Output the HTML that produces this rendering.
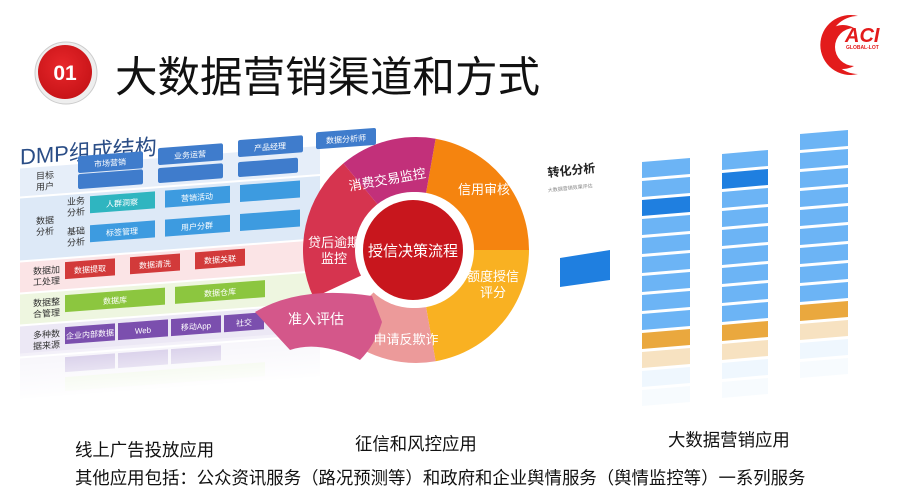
<!DOCTYPE html>
<html><head><meta charset="utf-8">
<style>
html,body{margin:0;padding:0;background:#fff;}
body{width:905px;height:503px;position:relative;overflow:hidden;font-family:"Liberation Sans","Noto Sans CJK SC",sans-serif;}
.t{position:absolute;white-space:nowrap;color:#111;}
</style></head><body>
<svg id="s" width="905" height="503" viewBox="0 0 905 503" xmlns="http://www.w3.org/2000/svg" style="position:absolute;left:0;top:0">
<defs>
<linearGradient id="fade" x1="0" y1="0" x2="0" y2="1"><stop offset="0" stop-color="#fff" stop-opacity="0.35"/><stop offset="1" stop-color="#fff" stop-opacity="1"/></linearGradient>
<radialGradient id="badge" cx="0.45" cy="0.4" r="0.6"><stop offset="0" stop-color="#e8272b"/><stop offset="1" stop-color="#c81418"/></radialGradient>
</defs>
<circle cx="66" cy="73" r="31" fill="#eee" stroke="#ccc" stroke-width="1"/>
<circle cx="65" cy="72" r="27" fill="url(#badge)"/>
<text x="65" y="80" text-anchor="middle" font-family="Liberation Sans" font-weight="bold" font-size="21" fill="#fff">01</text>
<text x="115" y="92" font-family="Liberation Sans,Noto Sans CJK SC,sans-serif" font-size="42.5" fill="#111">大数据营销渠道和方式</text>
<path d="M858 16 A30 30 0 1 0 858 74 A26 26 0 1 1 858 16Z" fill="#e31b1b"/>
<path d="M854 28 A22 22 0 1 0 854 66 A19 19 0 1 1 854 28Z" fill="#e31b1b"/>
<text x="845" y="42" font-family="Liberation Sans" font-weight="bold" font-style="italic" font-size="20" fill="#e31b1b">ACI</text>
<text x="846" y="49" font-family="Liberation Sans" font-weight="bold" font-size="5" fill="#e31b1b">GLOBAL-LOT</text>

<g transform="matrix(1,-0.075,0,1,0,0)">
<text x="20" y="166" font-size="22" fill="#2a4d86" font-family="Liberation Sans,Noto Sans CJK SC,sans-serif">DMP组成结构</text>
<rect x="20" y="170" width="300" height="28" fill="#e6eef9"/>
<rect x="20" y="200" width="300" height="62" fill="#dde9f7"/>
<rect x="20" y="264" width="300" height="30" fill="#fbe4e6"/>
<rect x="20" y="296" width="300" height="30" fill="#eef6e0"/>
<rect x="20" y="328" width="300" height="30" fill="#ece8f5"/>
<rect x="20" y="360" width="300" height="40" fill="#f2f0f8"/>
<g font-size="9" fill="#333" font-family="Liberation Sans,Noto Sans CJK SC,sans-serif">
<text x="36" y="182">目标</text><text x="36" y="193">用户</text>
<text x="36" y="227">数据</text><text x="36" y="238">分析</text>
<text x="67" y="210">业务</text><text x="67" y="221">分析</text>
<text x="67" y="240">基础</text><text x="67" y="251">分析</text>
<text x="33" y="277">数据加</text><text x="33" y="288">工处理</text>
<text x="33" y="309">数据整</text><text x="33" y="320">合管理</text>
<text x="33" y="341">多种数</text><text x="33" y="352">据来源</text>
</g>
<g fill="#3f7ccc"><rect x="78" y="162" width="65" height="17" rx="2"/><rect x="158" y="160" width="65" height="17" rx="2"/><rect x="238" y="158" width="65" height="17" rx="2"/><rect x="316" y="156" width="60" height="17" rx="2"/>
<rect x="78" y="180" width="65" height="15" rx="2"/><rect x="158" y="180" width="65" height="15" rx="2"/><rect x="238" y="180" width="60" height="15" rx="2"/></g>
<rect x="90" y="203" width="65" height="17" fill="#2fb5c0"/>
<rect x="165" y="203" width="65" height="17" fill="#3d9be0"/>
<rect x="240" y="203" width="60" height="17" fill="#3d9be0"/>
<rect x="90" y="232" width="65" height="17" fill="#3d9be0"/>
<rect x="165" y="232" width="65" height="17" fill="#3d9be0"/>
<rect x="240" y="232" width="60" height="17" fill="#3d9be0"/>
<rect x="65" y="267" width="50" height="17" fill="#d23a3a"/>
<rect x="130" y="267" width="50" height="17" fill="#d23a3a"/>
<rect x="195" y="267" width="50" height="17" fill="#d23a3a"/>
<rect x="65" y="300" width="100" height="17" fill="#8cc63f"/>
<rect x="175" y="300" width="90" height="17" fill="#8cc63f"/>
<rect x="65" y="332" width="50" height="17" fill="#7b4fae"/>
<rect x="118" y="332" width="50" height="17" fill="#7b4fae"/>
<rect x="171" y="332" width="50" height="17" fill="#7b4fae"/>
<rect x="224" y="332" width="40" height="17" fill="#7b4fae"/>
<rect x="65" y="362" width="50" height="15" fill="#bfb0dc"/>
<rect x="118" y="362" width="50" height="15" fill="#bfb0dc"/>
<rect x="171" y="362" width="50" height="15" fill="#bfb0dc"/>
<rect x="65" y="382" width="200" height="14" fill="#e3f0d3"/>
<g font-size="8" fill="#fff" font-family="Liberation Sans,Noto Sans CJK SC,sans-serif" text-anchor="middle">
<text x="110" y="174">市场营销</text><text x="190" y="172">业务运营</text><text x="270" y="170">产品经理</text><text x="346" y="168">数据分析师</text>
<text x="122" y="215">人群洞察</text><text x="197" y="215">营销活动</text>
<text x="122" y="244">标签管理</text><text x="197" y="244">用户分群</text>
<text x="90" y="279">数据提取</text><text x="155" y="279">数据清洗</text><text x="220" y="279">数据关联</text>
<text x="115" y="312">数据库</text><text x="220" y="312">数据仓库</text>
<text x="90" y="344">企业内部数据</text><text x="143" y="344">Web</text><text x="196" y="344">移动App</text><text x="244" y="344">社交</text>
</g>
<rect x="20" y="355" width="300" height="50" fill="url(#fade)"/>
</g>

<g id="donut"></g>
<text x="413" y="256" text-anchor="middle" font-size="15" fill="#fff" font-family="Liberation Sans,Noto Sans CJK SC,sans-serif">授信决策流程</text>
<g font-size="13" fill="#fff" font-family="Liberation Sans,Noto Sans CJK SC,sans-serif" text-anchor="middle">
<text x="388" y="184" transform="rotate(-10 388 184)">消费交易监控</text>
<text x="484" y="194">信用审核</text>
<text x="493" y="281">额度授信</text><text x="493" y="297">评分</text>
<text x="334" y="247">贷后逾期</text><text x="334" y="263">监控</text>
<text x="406" y="344">申请反欺诈</text>
<text x="316" y="324" font-size="14">准入评估</text>
</g>

<text x="548" y="177" font-size="12" font-weight="bold" fill="#222" transform="rotate(-6 548 177)" font-family="Liberation Sans,Noto Sans CJK SC,sans-serif">转化分析</text>
<text x="548" y="192" font-size="5" fill="#888" transform="rotate(-6 548 192)" font-family="Liberation Sans,Noto Sans CJK SC,sans-serif">大数据营销效果评估</text>
<polygon points="560,258 610,250 610,280 560,287" fill="#1f7fe0"/>
<g id="bars"></g>
</svg>
<div class="t" style="left:75px;top:437px;font-size:17.4px">线上广告投放应用</div>
<div class="t" style="left:355px;top:431px;font-size:17.4px">征信和风控应用</div>
<div class="t" style="left:668px;top:427px;font-size:17.4px">大数据营销应用</div>
<div class="t" style="left:75px;top:465px;font-size:17.4px">其他应用包括：公众资讯服务（路况预测等）和政府和企业舆情服务（舆情监控等）一系列服务</div>
<script>
var NS="http://www.w3.org/2000/svg",cx=416,cy=250;
function arc(R,r,a0,a1,c){var d=Math.PI/180,p=function(rad,a){return [cx+rad*Math.cos(a*d),cy+rad*Math.sin(a*d)]};
var A=p(R,a0),B=p(R,a1),C=p(r,a1),D=p(r,a0),l=(a1-a0)>180?1:0;
var e=document.createElementNS(NS,"path");e.setAttribute("d","M"+A+"A"+R+","+R+" 0 "+l+" 1 "+B+"L"+C+"A"+r+","+r+" 0 "+l+" 0 "+D+"Z");e.setAttribute("fill",c);document.getElementById("donut").appendChild(e);}
arc(113,58,-80,0,"#f5840f");
arc(113,58,0,80,"#f9b122");
arc(113,58,80,135,"#ec9a9a");
arc(113,58,155,230,"#d6344f");
arc(113,58,230,280,"#c2307a");
var g=document.getElementById("donut");
var q=document.createElementNS(NS,"path");q.setAttribute("d","M255 312 Q300 285 372 296 L382 322 Q375 345 360 360 Q320 340 290 350 Z");q.setAttribute("fill","#d4578a");g.appendChild(q);
var w=document.createElementNS(NS,"circle");w.setAttribute("cx",413);w.setAttribute("cy",250);w.setAttribute("r",58);w.setAttribute("fill","#fff");g.appendChild(w);
var w2=document.createElementNS(NS,"circle");w2.setAttribute("cx",413);w2.setAttribute("cy",250);w2.setAttribute("r",50);w2.setAttribute("fill","#c8161d");g.appendChild(w2);
var b=document.getElementById("bars");
var cols=[[642,160,690,9,[2]],[722,152,768,9,[1]],[800,132,848,9,[]]];
cols.forEach(function(c){var x=c[0],y0=c[1],x2=c[2];for(var i=0;i<c[3]+4;i++){var y=y0+i*19;var col="#6cb4f5",op=1;
if(c[4].indexOf(i)>=0)col="#1f7fe0";if(i==c[3])col="#eaa83e";if(i>c[3]){col=i==c[3]+1?"#f2cf98":"#d8eafc";op=0.8-0.2*(i-c[3]);}
var r=document.createElementNS(NS,"polygon");var sk=-4;r.setAttribute("points",x+","+(y+2)+" "+x2+","+(y+2+sk)+" "+x2+","+(y+18+sk)+" "+x+","+(y+18));r.setAttribute("fill",col);r.setAttribute("opacity",op);b.appendChild(r);}});
</script>
</body></html>
